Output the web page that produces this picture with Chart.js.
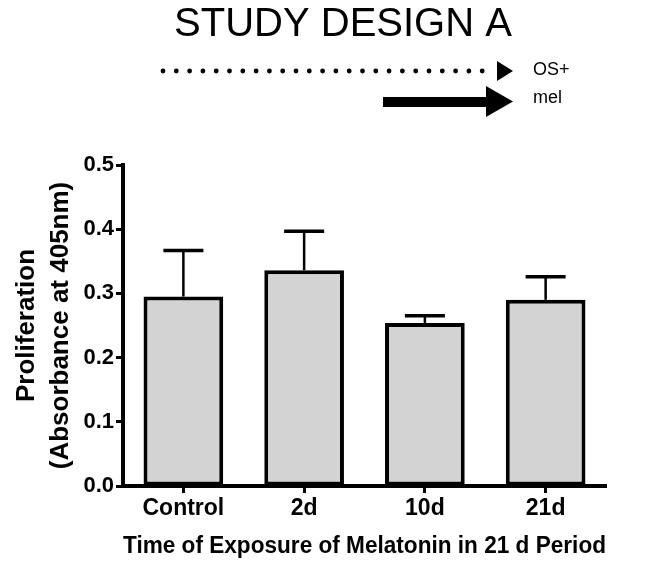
<!DOCTYPE html>
<html>
<head>
<meta charset="utf-8">
<script src="https://cdn.jsdelivr.net/npm/chart.js@4.4.1/dist/chart.umd.min.js"></script>
<style>
  html, body { margin: 0; padding: 0; background: #fff; }
  #wrap { width: 647px; height: 563px; position: relative; }
</style>
</head>
<body>
<div id="wrap"><canvas id="prolifChart"></canvas></div>
<script>
// groups and measured proliferation (mean + upper SEM)
const groups = ['Control', '2d', '10d', '21d'];
const meanValues = [0.295, 0.336, 0.254, 0.290];
const semValues = [0.072, 0.061, 0.011, 0.036];
const yTicks = [0.0, 0.1, 0.2, 0.3, 0.4, 0.5];

const FONT = '"Liberation Sans", Arial, sans-serif';

// only the upper half of the error bar is drawn, like Prism does
const errorBars = {
    id: 'errorBars',
    afterDatasetsDraw(chart) {
        const ctx = chart.ctx;
        const y = chart.scales.y;
        const meta = chart.getDatasetMeta(0);
        ctx.save();
        ctx.strokeStyle = '#000';
        meta.data.forEach((bar, i) => {
            const top = y.getPixelForValue(meanValues[i] + semValues[i]);
            ctx.lineWidth = 2.5;
            ctx.beginPath();
            ctx.moveTo(bar.x, bar.y);
            ctx.lineTo(bar.x, top);
            ctx.stroke();
            ctx.lineWidth = 3.5;
            ctx.beginPath();
            ctx.moveTo(bar.x - 20, top);
            ctx.lineTo(bar.x + 20, top);
            ctx.stroke();
        });
        ctx.restore();
    }
};

// heading plus the two treatment arrows above the plot
const header = {
    id: 'header',
    afterDraw(chart) {
        const ctx = chart.ctx;
        ctx.save();
        ctx.fillStyle = '#000';
        ctx.textAlign = 'center';
        ctx.textBaseline = 'middle';
        ctx.font = '40px ' + FONT;
        ctx.fillText('STUDY DESIGN A', 343, 25);

        // dotted arrow (OS+)
        for (let x = 163; x < 492; x += 13.3) {
            ctx.beginPath();
            ctx.arc(x, 71, 2.4, 0, Math.PI * 2);
            ctx.fill();
        }
        ctx.beginPath();
        ctx.moveTo(497, 61);
        ctx.lineTo(513, 71);
        ctx.lineTo(497, 81);
        ctx.closePath();
        ctx.fill();

        // solid arrow (mel)
        ctx.fillRect(383, 97, 106, 10);
        ctx.beginPath();
        ctx.moveTo(486, 86);
        ctx.lineTo(513, 101.5);
        ctx.lineTo(486, 117);
        ctx.closePath();
        ctx.fill();

        ctx.textAlign = 'left';
        ctx.font = '18px ' + FONT;
        ctx.fillText('OS+', 533, 70);
        ctx.fillText('mel', 533, 98);
        ctx.restore();
    }
};

new Chart(document.getElementById('prolifChart'), {
    type: 'bar',
    data: {
        labels: groups,
        datasets: [{
            data: meanValues,
            backgroundColor: '#d3d3d3',
            borderColor: '#000',
            borderWidth: 4,
            borderSkipped: false,
            categoryPercentage: 1,
            barPercentage: 0.66
        }]
    },
    options: {
        responsive: true,
        maintainAspectRatio: false,
        animation: false,
        layout: { padding: { top: 165, right: 41, left: 0, bottom: 0 } },
        plugins: {
            legend: { display: false },
            tooltip: { enabled: false }
        },
        scales: {
            x: {
                afterFit(scale) { scale.height = 77; },
                grid: {
                    offset: false,
                    drawOnChartArea: false,
                    drawTicks: true,
                    tickLength: 7,
                    tickWidth: 3,
                    tickColor: '#000'
                },
                border: { display: true, color: '#000', width: 4 },
                ticks: {
                    color: '#000',
                    padding: 2,
                    font: { family: FONT, size: 23, weight: 'bold' }
                },
                title: {
                    display: true,
                    text: 'Time of Exposure of Melatonin in 21 d Period',
                    color: '#000',
                    padding: { top: 2, bottom: 3 },
                    font: { family: FONT, size: 23, weight: 'bold' }
                }
            },
            y: {
                min: 0,
                max: 0.5,
                afterFit(scale) { scale.width = 123; },
                afterBuildTicks(scale) {
                    scale.ticks = yTicks.map(v => ({ value: v }));
                },
                grid: {
                    drawOnChartArea: false,
                    drawTicks: true,
                    tickLength: 7,
                    tickWidth: 3,
                    tickColor: '#000'
                },
                border: { display: true, color: '#000', width: 4 },
                ticks: {
                    color: '#000',
                    padding: 2,
                    font: { family: FONT, size: 22, weight: 'bold' },
                    callback: v => v.toFixed(1)
                },
                title: {
                    display: true,
                    text: ['Proliferation', '(Absorbance at 405nm)'],
                    color: '#000',
                    padding: { top: 10, bottom: 0 },
                    font: { family: FONT, size: 26, weight: 'bold', lineHeight: 1.3 }
                }
            }
        }
    },
    plugins: [errorBars, header]
});
</script>
</body>
</html>
